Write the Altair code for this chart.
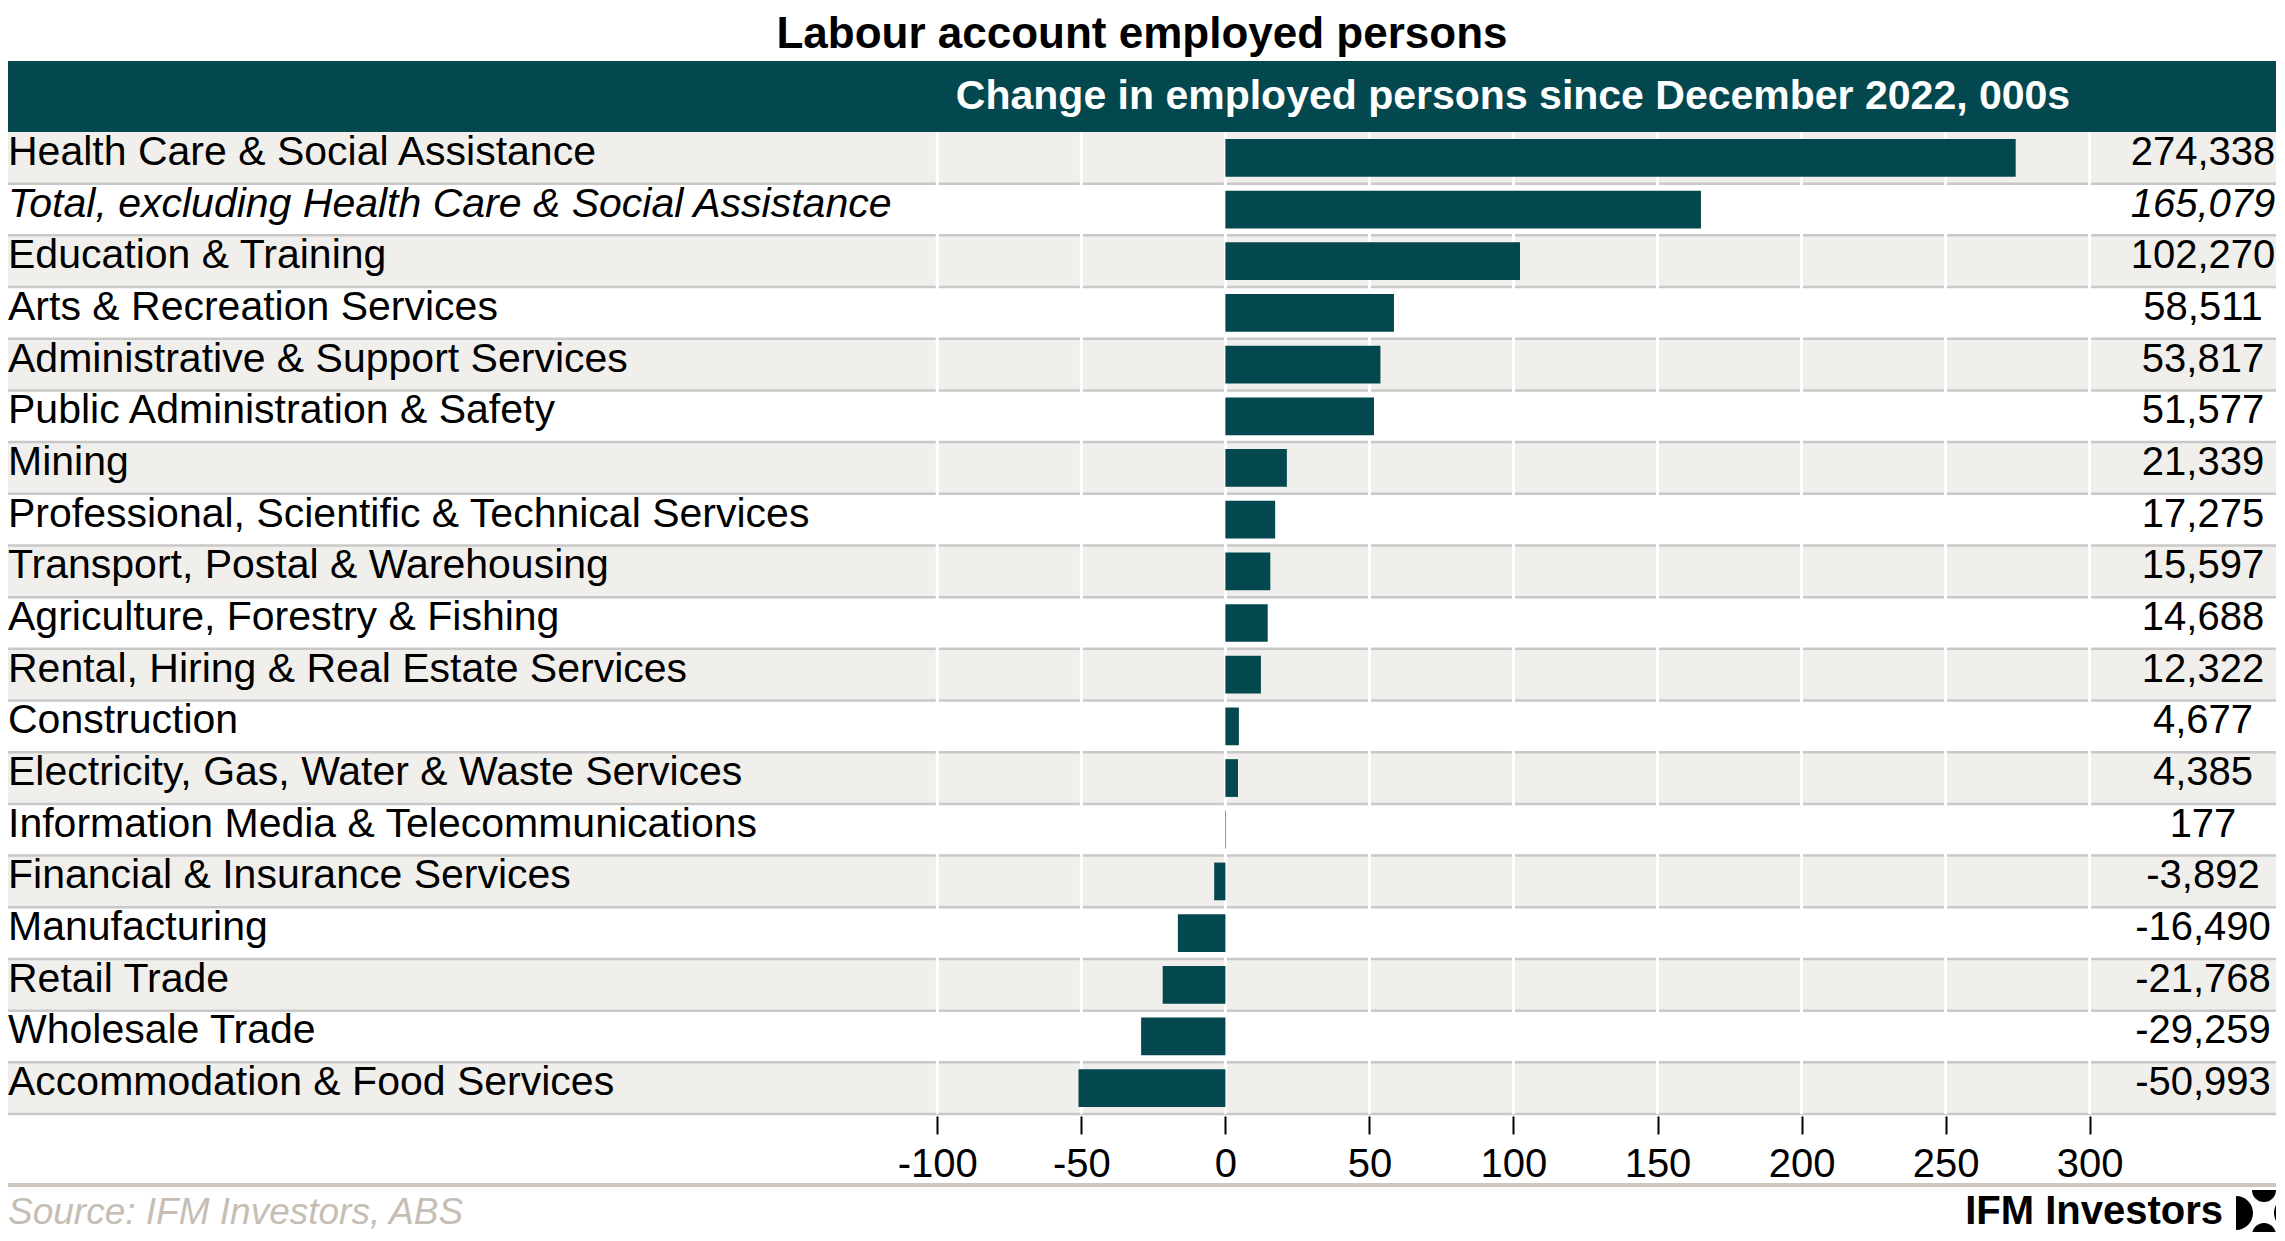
import math
import altair as alt
import pandas as pd

# ---------------- data ----------------
categories = [
    "Health Care & Social Assistance",
    "Total, excluding Health Care & Social Assistance",
    "Education & Training",
    "Arts & Recreation Services",
    "Administrative & Support Services",
    "Public Administration & Safety",
    "Mining",
    "Professional, Scientific & Technical Services",
    "Transport, Postal & Warehousing",
    "Agriculture, Forestry & Fishing",
    "Rental, Hiring & Real Estate Services",
    "Construction",
    "Electricity, Gas, Water & Waste Services",
    "Information Media & Telecommunications",
    "Financial & Insurance Services",
    "Manufacturing",
    "Retail Trade",
    "Wholesale Trade",
    "Accommodation & Food Services",
]
values = [274338, 165079, 102270, 58511, 53817, 51577, 21339, 17275, 15597,
          14688, 12322, 4677, 4385, 177, -3892, -16490, -21768, -29259, -50993]
italic_rows = ["Total, excluding Health Care & Social Assistance"]
tick_values = [-100, -50, 0, 50, 100, 150, 200, 250, 300]

TITLE = "Labour account employed persons"
HEADER = "Change in employed persons since December 2022, 000s"
SOURCE = "Source: IFM Investors, ABS"
BRAND = "IFM Investors"

# ---------------- styling ----------------
FONT = "Liberation Sans, Arial, Helvetica, sans-serif"
W = 2268          # plot width (whole canvas width)
PH = 982          # plot height (rows region)
TOP = 124
BOTTOM = 118
TEAL = "#03474f"
ROW_GRAY = "#f1efec"
SEP = "#c8c8c8"
FOOT_LINE = "#cfc6bd"
SRC_COLOR = "#c6beb5"
LBL = 41

df = pd.DataFrame({"category": categories, "value": values})
df["k"] = df["value"] / 1000.0
df["zero"] = 0.0
df["label"] = [f"{v:,}" for v in values]
df["row"] = list(range(len(df)))
df["shade"] = df["row"] % 2 == 0
df["italic"] = df["category"].isin(italic_rows)

ticks_df = pd.DataFrame({"t": tick_values})
one = pd.DataFrame({"a": [0]})

xscale = alt.Scale(domain=[-422.6, 364.7], nice=False, zero=False)
xaxis = alt.Axis(
    values=tick_values, grid=False, domain=False, ticks=True, tickSize=18,
    tickColor="black", tickWidth=2, offset=2, labelPadding=10, labelFontSize=40,
    labelColor="black", labelFont=FONT, labelExpr="'' + datum.value",
    labelFlush=False, labelOverlap=False, title=None,
)
yscale = alt.Scale(paddingInner=0, paddingOuter=0)


def Y(**kw):
    return alt.Y("category:N", sort=categories, scale=yscale, axis=None, title=None, **kw)


def X(field):
    return alt.X(field, type="quantitative", scale=xscale, axis=xaxis, title=None)


base = alt.Chart(df)

bg = base.transform_filter("datum.shade").mark_rect(color=ROW_GRAY).encode(
    y=Y(), x=alt.value(0), x2=alt.value(W)
)
seps = base.mark_rule(color=SEP, strokeWidth=2.5).encode(y=Y(bandPosition=1))
grid = alt.Chart(ticks_df).mark_rule(color="white", strokeWidth=3).encode(x=X("t"))
bars = base.mark_bar(color=TEAL, height=alt.RelativeBandSize(0.73)).encode(
    y=Y(), x=X("k"), x2=alt.X2("zero")
)
labels = base.transform_filter("!datum.italic").mark_text(
    align="left", baseline="alphabetic", dy=7, fontSize=LBL, font=FONT, color="black"
).encode(y=Y(), x=alt.value(0), text="category:N")
labels_i = base.transform_filter("datum.italic").mark_text(
    align="left", baseline="alphabetic", dy=7, fontSize=LBL, font=FONT, color="black",
    fontStyle="italic"
).encode(y=Y(), x=alt.value(0), text="category:N")
vals = base.transform_filter("!datum.italic").mark_text(
    align="center", baseline="alphabetic", dy=7, fontSize=40, font=FONT, color="black"
).encode(y=Y(), x=alt.value(2195), text="label:N")
vals_i = base.transform_filter("datum.italic").mark_text(
    align="center", baseline="alphabetic", dy=7, fontSize=40, font=FONT, color="black",
    fontStyle="italic"
).encode(y=Y(), x=alt.value(2195), text="label:N")

header_band = alt.Chart(one).mark_rect(color=TEAL).encode(
    x=alt.value(0), x2=alt.value(W), y=alt.value(-71), y2=alt.value(0)
)
header_text = alt.Chart(one).mark_text(
    align="center", baseline="alphabetic", fontSize=41, fontWeight="bold",
    font=FONT, color="white"
).encode(x=alt.value(1505), y=alt.value(-23), text=alt.value(HEADER))
title = alt.Chart(one).mark_text(
    align="center", baseline="alphabetic", fontSize=44, fontWeight="bold",
    font=FONT, color="black"
).encode(x=alt.value(W / 2), y=alt.value(-84), text=alt.value(TITLE))

foot_line = alt.Chart(one).mark_rule(color=FOOT_LINE, strokeWidth=4).encode(
    x=alt.value(0), x2=alt.value(W), y=alt.value(PH + 71)
)
source = alt.Chart(one).mark_text(
    align="left", baseline="alphabetic", fontSize=37, fontStyle="italic",
    font=FONT, color=SRC_COLOR
).encode(x=alt.value(0), y=alt.value(PH + 110), text=alt.value(SOURCE))
brand = alt.Chart(one).mark_text(
    align="right", baseline="alphabetic", fontSize=40, fontWeight="bold",
    font=FONT, color="black"
).encode(x=alt.value(2215), y=alt.value(PH + 110), text=alt.value(BRAND))

pi = math.pi
logo_parts = [
    (2256, PH + 76, 12, pi / 2, 3 * pi / 2),
    (2256, PH + 121, 12, 3 * pi / 2, 5 * pi / 2),
    (2228, PH + 99, 17, 0, pi),
    (2283, PH + 99, 17, pi, 2 * pi),
]
logo = []
for cx, cy, r, t1, t2 in logo_parts:
    logo.append(
        alt.Chart(one).mark_arc(color="black", radius=r, theta=t1, theta2=t2).encode(
            x=alt.value(cx), y=alt.value(cy)
        )
    )

chart = alt.layer(
    bg, seps, grid, bars, labels, labels_i, vals, vals_i,
    header_band, header_text, title, foot_line, source, brand, *logo
).properties(
    width=W, height=PH,
    autosize=alt.AutoSizeParams(type="none"),
    padding={"left": 0, "top": TOP, "right": 0, "bottom": BOTTOM},
    background="white",
).configure_view(stroke=None)

chart.save("out.html", embed_options={"renderer": "svg", "actions": False})
